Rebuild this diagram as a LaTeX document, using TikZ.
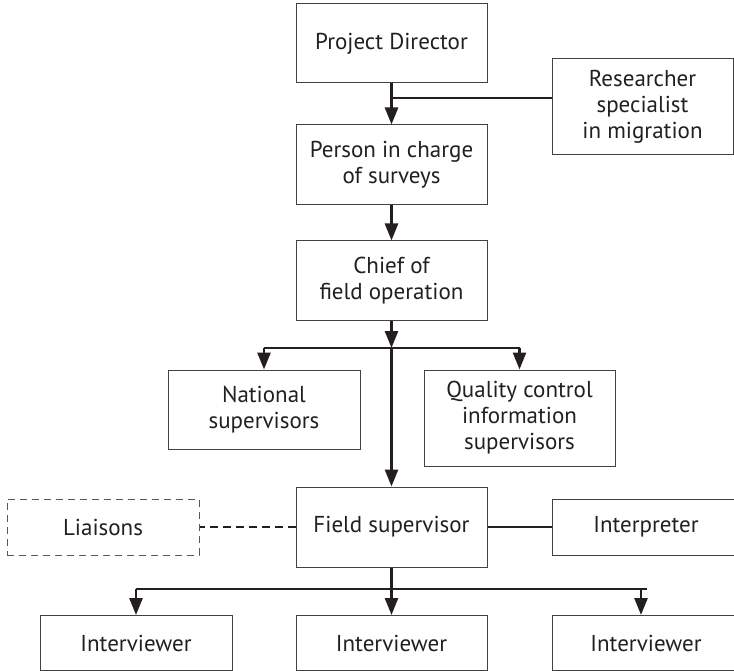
\documentclass[tikz,border=0pt]{standalone}
\usepackage{fontspec}
\setmainfont{PT Sans}
\usetikzlibrary{arrows.meta}
\definecolor{ink}{HTML}{231F20}
\begin{document}
\begin{tikzpicture}[x=1pt,y=-1pt,
  box/.style={draw=ink!85, line width=1pt, inner sep=0pt, align=center,
    text=ink, font=\fontsize{23}{26}\selectfont},
  conn/.style={draw=ink, line width=2.6pt},
  arr/.style={conn, -{Triangle[width=13pt,length=17pt]}},
  dashconn/.style={draw=ink, line width=2.2pt, dash pattern=on 8pt off 5pt}]
\useasboundingbox (0,0) rectangle (734,671);
% nodes
\node[box, minimum width=191pt, minimum height=79pt] (pd) at (391.5,43.5) {Project Director};
\node[box, minimum width=181pt, minimum height=96pt] (res) at (642.5,107) {Researcher\\specialist\\in migration};
\node[box, minimum width=191pt, minimum height=80pt] (person) at (391.5,165) {Person in charge\\of surveys};
\node[box, minimum width=191pt, minimum height=79pt] (chief) at (391.5,280.5) {Chief of\\field operation};
\node[box, minimum width=192pt, minimum height=79pt] (nat) at (264,409.5) {National\\supervisors};
\node[box, minimum width=191pt, minimum height=96pt] (qc) at (519.5,418) {Quality control\\information\\supervisors};
\node[box, minimum width=191pt, minimum height=80pt] (fs) at (391.5,527) {Field supervisor};
\node[box, draw=ink!75, dash pattern=on 7pt off 5pt, minimum width=192pt, minimum height=56pt] (lia) at (103,527) {Liaisons};
\node[box, minimum width=188pt, minimum height=56pt] (interp) at (646,527) {Interpreter};
\node[box, minimum width=192pt, minimum height=55pt] (iv1) at (136,643) {Interviewer};
\node[box, minimum width=191pt, minimum height=55pt] (iv2) at (391.5,643) {Interviewer};
\node[box, minimum width=188pt, minimum height=55pt] (iv3) at (646,643) {Interviewer};
% junctions
\coordinate (j1) at (391.5,98);
\coordinate (j2) at (391.5,348);
\coordinate (j3) at (391.5,589);
\coordinate (j4) at (641,589);
\coordinate (bend) at (647,589);
% connectors
\draw[arr] (pd.south) -- (person.north);
\draw[conn] (j1) -- (j1 -| res.west);
\draw[arr] (person.south) -- (chief.north);
\draw[arr] (chief.south) -- (j2);
\draw[conn] (nat.north |- j2) -- (qc.north |- j2);
\draw[arr] (nat.north |- j2) -- (nat.north);
\draw[arr] (qc.north |- j2) -- (qc.north);
\draw[arr] (j2) -- (fs.north);
\draw[dashconn] (fs.west) -- (lia.east);
\draw[conn] (fs.east) -- (interp.west);
\draw[conn] (fs.south) -- (j3);
\draw[conn] (iv1.north |- j3) -- (bend);
\draw[arr] (iv1.north |- j3) -- (iv1.north);
\draw[arr] (j3) -- (iv2.north);
\draw[arr] (j4) -- (j4 |- iv3.north);
\end{tikzpicture}
\end{document}
